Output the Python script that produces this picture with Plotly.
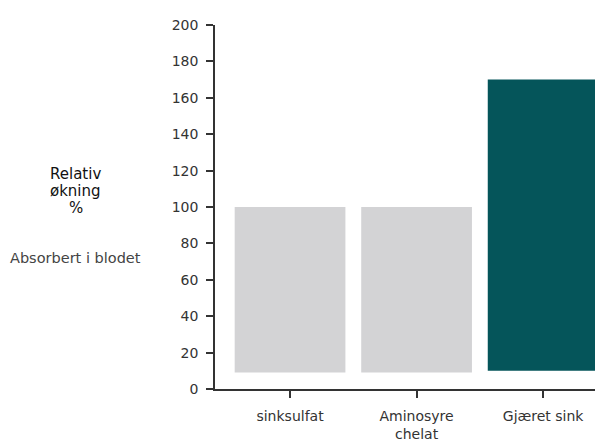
import plotly.graph_objects as go

categories = ["sinksulfat", "Aminosyre<br>chelat", "Gjæret sink"]
values = [100, 100, 170]
bases = [9, 9, 10]
colors = ["#D3D3D5", "#D3D3D5", "#05555A"]
y_ticks = list(range(0, 201, 20))
y_title_lines = ["Relativ", "økning", "%"]
y_subtitle = "Absorbert i blodet"

FONT = "DejaVu Sans, Inter, sans-serif"

fig = go.Figure(
    go.Bar(
        x=list(range(len(categories))),
        y=[v - b for v, b in zip(values, bases)],
        base=bases,
        marker=dict(color=colors, line=dict(width=0)),
        width=0.875,
        showlegend=False,
        hoverinfo="skip",
    )
)

axis_color = "#333333"

# stacked title lines with tight leading, left of the y axis
title_annotations = [
    dict(
        text=line,
        xref="paper", yref="paper",
        x=-0.366, y=(389 - yc) / 364,
        xanchor="center", yanchor="middle",
        showarrow=False,
        font=dict(family=FONT, size=15, color="#111111"),
    )
    for line, yc in zip(y_title_lines, [174, 191, 208])
]

fig.update_layout(
    width=595,
    height=442,
    margin=dict(l=215, r=0, t=25, b=53, autoexpand=False),
    paper_bgcolor="white",
    plot_bgcolor="white",
    font=dict(family=FONT, size=14, color="#333333"),
    xaxis=dict(
        range=[-0.593, 2.41],
        tickmode="array",
        tickvals=list(range(len(categories))),
        ticktext=categories,
        showgrid=False,
        zeroline=False,
        showline=True,
        linecolor=axis_color,
        linewidth=1.5,
        ticks="outside",
        ticklen=7,
        tickcolor=axis_color,
        tickwidth=1.5,
        ticklabelstandoff=6,
        tickfont=dict(family=FONT, size=14, color="#333333"),
    ),
    yaxis=dict(
        range=[0, 200],
        tickmode="array",
        tickvals=y_ticks,
        showgrid=False,
        zeroline=False,
        showline=True,
        linecolor=axis_color,
        linewidth=1.5,
        ticks="outside",
        ticklen=7,
        tickcolor=axis_color,
        tickwidth=1.5,
        ticklabelstandoff=5,
        tickfont=dict(family=FONT, size=14, color="#333333"),
    ),
    annotations=title_annotations + [
        dict(
            text=y_subtitle,
            xref="paper", yref="paper",
            x=-0.368, y=(389 - 258) / 364,
            xanchor="center", yanchor="middle",
            showarrow=False,
            font=dict(family=FONT, size=14.5, color="#444444"),
        ),
    ],
)

fig.write_html("out.html")
